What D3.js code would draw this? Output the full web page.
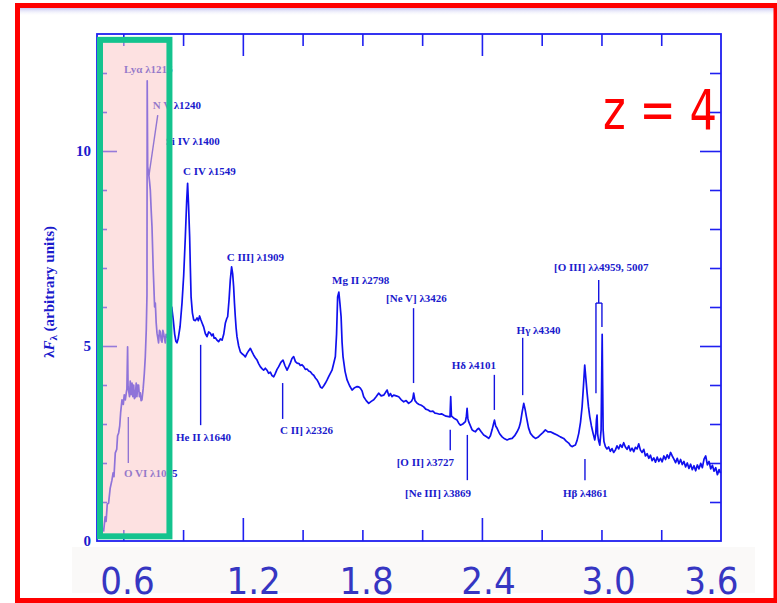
<!DOCTYPE html>
<html>
<head>
<meta charset="utf-8">
<script src="https://cdn.jsdelivr.net/npm/d3@7"></script>
<style>
  body { margin: 0; background: #fff; }
  svg { display: block; }
</style>
</head>
<body>
<svg id="chart" width="777" height="603"></svg>
<script>
// composite quasar spectrum, rest wavelength (A) vs lambda F_lambda
const wave = [835, 848, 856, 866, 877, 890, 905, 915, 922, 933, 945, 952, 961, 970, 978, 989,
  1000, 1008, 1017, 1025, 1030, 1036, 1040, 1044, 1052, 1058, 1065, 1073, 1080, 1087, 1093, 1100,
  1108, 1114, 1121, 1128, 1135, 1142, 1149, 1156, 1166, 1176, 1184, 1192, 1198, 1200, 1204, 1212,
  1220, 1226, 1233, 1240, 1250, 1262, 1268, 1275, 1282, 1289, 1295, 1303, 1310, 1317, 1324, 1331,
  1337, 1344, 1351, 1358, 1366, 1375, 1385, 1395, 1405, 1418, 1430, 1440, 1449, 1460, 1475, 1491,
  1505, 1519, 1530, 1538, 1546, 1555, 1561, 1567, 1578, 1589, 1603, 1617, 1628, 1638, 1648, 1659,
  1672, 1686, 1700, 1714, 1728, 1740, 1751, 1760, 1770, 1784, 1797, 1812, 1826, 1840, 1854, 1865,
  1873, 1885, 1895, 1906, 1915, 1923, 1930, 1937, 1944, 1951, 1965, 1979, 1993, 2007, 2021, 2035,
  2049, 2063, 2077, 2090, 2104, 2119, 2132, 2146, 2160, 2174, 2188, 2202, 2216, 2230, 2244, 2258,
  2272, 2286, 2300, 2318, 2336, 2352, 2370, 2384, 2397, 2411, 2425, 2440, 2454, 2470, 2481, 2495,
  2509, 2523, 2537, 2551, 2565, 2580, 2593, 2607, 2621, 2635, 2649, 2663, 2677, 2691, 2705, 2719,
  2732, 2746, 2760, 2774, 2784, 2793, 2803, 2812, 2822, 2830, 2838, 2855, 2872, 2893, 2914, 2935,
  2956, 2970, 2983, 2997, 3011, 3032, 3053, 3074, 3095, 3115, 3136, 3157, 3178, 3192, 3207, 3222,
  3235, 3248, 3262, 3283, 3304, 3325, 3346, 3366, 3387, 3410, 3422, 3429, 3440, 3458, 3475, 3493,
  3513, 3530, 3550, 3569, 3590, 3607, 3625, 3645, 3662, 3680, 3700, 3722, 3733, 3739, 3745, 3751,
  3770, 3792, 3806, 3820, 3840, 3862, 3870, 3876, 3882, 3889, 3903, 3918, 3932, 3946, 3960, 3973,
  3994, 4015, 4036, 4057, 4071, 4085, 4097, 4105, 4115, 4127, 4148, 4169, 4190, 4211, 4232, 4253,
  4274, 4294, 4310, 4322, 4336, 4350, 4361, 4372, 4390, 4406, 4427, 4448, 4468, 4489, 4510, 4531,
  4552, 4573, 4600, 4629, 4656, 4684, 4705, 4726, 4740, 4754, 4768, 4782, 4796, 4810, 4825, 4838,
  4850, 4860, 4870, 4880, 4891, 4902, 4916, 4930, 4944, 4952, 4958, 4963, 4968, 4975, 4986, 4997,
  5002, 5006, 5010, 5014, 5021, 5033, 5046, 5060, 5074, 5088, 5102, 5116, 5130, 5144, 5158, 5172,
  5186, 5200, 5214, 5228, 5242, 5256, 5270, 5284, 5298, 5312, 5326, 5340, 5354, 5368, 5382, 5396,
  5410, 5424, 5438, 5452, 5466, 5480, 5494, 5508, 5522, 5536, 5550, 5564, 5578, 5592, 5606, 5620,
  5634, 5648, 5662, 5676, 5690, 5704, 5718, 5732, 5746, 5760, 5774, 5788, 5802, 5816, 5830, 5844,
  5858, 5872, 5886, 5900, 5914, 5928, 5942, 5956, 5970, 5984, 5996];
const flux = [0.24, 0.62, 0.5, 0.95, 0.97, 1.35, 1.56, 1.75, 1.65, 2.26, 2.35, 2.7, 2.77, 2.95, 3.3, 3.62,
  3.5, 3.75, 3.62, 3.8, 3.9, 4.98, 3.95, 3.87, 3.7, 4.1, 3.75, 4.05, 3.7, 4.0, 3.65, 3.69,
  4.05, 3.7, 4.0, 4.0, 3.7, 3.8, 3.6, 3.62, 3.9, 4.3, 4.72, 5.4, 6.3, 11.8, 9.6, 9.43,
  9.2, 9.0, 8.5, 8.06, 7.0, 6.0, 6.1, 5.6, 5.33, 5.2, 5.08, 5.4, 5.36, 5.15, 5.1, 5.4,
  5.33, 5.2, 5.08, 5.3, 5.23, 5.35, 5.55, 5.8, 6.0, 5.67, 5.3, 5.12, 5.08, 5.2, 5.5, 6.1,
  6.8, 7.8, 8.7, 9.17, 8.6, 7.8, 7.0, 6.26, 5.85, 5.67, 5.65, 5.72, 5.65, 5.77, 5.68, 5.59,
  5.49, 5.32, 5.24, 5.36, 5.33, 5.26, 5.31, 5.2, 5.21, 5.15, 5.11, 5.18, 5.15, 5.3, 5.59, 5.7,
  5.75, 6.2, 6.69, 7.03, 6.85, 6.52, 6.1, 5.75, 5.45, 5.24, 5.0, 4.85, 4.8, 4.77, 4.72, 4.81,
  4.88, 4.94, 4.85, 4.77, 4.7, 4.64, 4.55, 4.47, 4.42, 4.38, 4.43, 4.38, 4.3, 4.33, 4.24, 4.21,
  4.3, 4.4, 4.47, 4.58, 4.64, 4.5, 4.38, 4.47, 4.56, 4.68, 4.73, 4.6, 4.56, 4.55, 4.5, 4.52,
  4.47, 4.4, 4.41, 4.36, 4.34, 4.28, 4.25, 4.18, 4.13, 4.05, 3.95, 3.92, 3.98, 4.05, 4.13, 4.22,
  4.3, 4.38, 4.55, 4.73, 5.3, 6.26, 6.38, 6.1, 5.75, 5.1, 4.73, 4.35, 4.13, 3.98, 3.87, 3.93,
  3.96, 3.95, 3.92, 3.85, 3.7, 3.6, 3.53, 3.58, 3.62, 3.7, 3.79, 3.72, 3.74, 3.8, 3.87, 3.72,
  3.78, 3.7, 3.74, 3.72, 3.7, 3.62, 3.57, 3.6, 3.53, 3.58, 3.65, 3.79, 3.6, 3.53, 3.5, 3.48,
  3.44, 3.38, 3.36, 3.32, 3.33, 3.28, 3.27, 3.25, 3.26, 3.23, 3.2, 3.19, 3.18, 3.7, 3.2, 3.19,
  3.14, 3.1, 3.02, 2.97, 3.0, 3.06, 3.2, 3.4, 3.15, 3.06, 2.96, 2.85, 2.82, 2.8, 2.86, 2.89,
  2.8, 2.72, 2.68, 2.63, 2.7, 2.85, 3.0, 3.1, 2.95, 2.89, 2.75, 2.67, 2.62, 2.59, 2.62, 2.63,
  2.7, 2.8, 2.9, 3.03, 3.3, 3.53, 3.38, 3.19, 2.9, 2.76, 2.68, 2.63, 2.66, 2.72, 2.78, 2.85,
  2.8, 2.8, 2.76, 2.72, 2.67, 2.63, 2.56, 2.51, 2.45, 2.42, 2.44, 2.46, 2.58, 2.76, 3.05, 3.44,
  4.0, 4.51, 4.15, 3.79, 3.45, 3.19, 2.95, 2.76, 2.59, 2.75, 3.1, 3.23, 2.75, 2.59, 2.46, 2.85,
  4.2, 5.3, 4.0, 2.85, 2.55, 2.42, 2.36, 2.41, 2.3, 2.37, 2.27, 2.33, 2.44, 2.36, 2.47, 2.4,
  2.52, 2.41, 2.35, 2.44, 2.31, 2.38, 2.29, 2.4, 2.36, 2.49, 2.33, 2.27, 2.35, 2.18, 2.24, 2.12,
  2.2, 2.06, 2.13, 2.02, 2.15, 2.04, 2.12, 2.03, 2.18, 2.09, 2.21, 2.12, 2.27, 2.18, 2.1, 2.01,
  2.12, 1.98, 2.09, 1.96, 2.04, 1.9, 2.0, 1.86, 1.97, 1.83, 1.93, 1.8, 1.95, 1.85, 1.99, 1.88,
  2.1, 2.18, 1.95, 2.04, 1.85, 1.94, 1.79, 1.88, 1.7, 1.83, 1.74];

// emission line labels: text start (wavelength) and baseline (flux)
const lineNames = ['Ly\u03b1 \u03bb1216', 'N V \u03bb1240', 'Si IV \u03bb1400', 'C IV \u03bb1549',
  'He II \u03bb1640', 'C III] \u03bb1909', 'C II] \u03bb2326', 'Mg II \u03bb2798', '[Ne V] \u03bb3426',
  '[O II] \u03bb3727', '[Ne III] \u03bb3869', 'H\u03b4 \u03bb4101', 'H\u03b3 \u03bb4340',
  'H\u03b2 \u03bb4861', '[O III] \u03bb\u03bb4959, 5007', 'O VI \u03bb1035'];
const labelWave = [1006, 1246, 1355, 1499, 1441, 1865, 2311, 2746, 3198, 3287, 3357, 3747, 4290, 4678, 4603, 1006];
const labelFlux = [12.0, 11.08, 10.15, 9.38, 2.56, 7.18, 2.74, 6.59, 6.13, 1.92, 1.13, 4.41, 5.31, 1.13, 6.92, 1.64];

// marker segments [w1, f1, w2, f2]
const markers = [
  [1288, 10.92, 1215, 9.38],
  [1647, 5.03, 1647, 2.97],
  [2333, 4.05, 2333, 3.13],
  [3428, 5.97, 3428, 4.05],
  [3735, 2.85, 3735, 2.33],
  [3878, 2.72, 3878, 1.56],
  [4104, 4.26, 4104, 3.36],
  [4341, 5.21, 4341, 3.74],
  [4862, 2.10, 4862, 1.56],
  [1042, 3.18, 1042, 2.0],
  [4977, 6.69, 4977, 6.10],
  [4954, 6.10, 5004, 6.10],
  [4954, 6.10, 4954, 3.79],
  [5004, 6.10, 5004, 5.49]
];

const yLabels = [0, 5, 10];
const yMinor = [1, 2, 3, 4, 6, 7, 8, 9, 11, 12];
const yMajor = [5, 10];
const xMinor = [1000, 1500, 2500, 3000, 3500, 4500, 5000, 5500];
const xMajor = [2000, 4000];

// observed-frame wavelengths (micron) at z = 4, placed at rest wavelength
const obsLabels = ['0.6', '1.2', '1.8', '2.4', '3.0', '3.6'];
const obsRest = [1035, 2090, 3035, 4055, 5060, 5920];

// shaded window (rest A, flux)
const windowWave = [805, 1386];
const windowFlux = [0.12, 12.85];

const blue = '#1f1ff0';
const textBlue = '#1a1acc';

const svg = d3.select('#chart');
const x = d3.scaleLinear().domain([780, 6000]).range([97, 721]);
const y = d3.scaleLinear().domain([0, 13]).range([541, 34]);

// faint smear under the top border
{
  let grad = svg.append('defs').append('linearGradient')
    .attr('id', 'smear').attr('x1', 0).attr('y1', 0).attr('x2', 0).attr('y2', 1);
  grad.append('stop').attr('offset', 0).attr('stop-color', '#b8b8ee').attr('stop-opacity', 0.8);
  grad.append('stop').attr('offset', 1).attr('stop-color', '#ffffff').attr('stop-opacity', 0);
  svg.append('rect').attr('x', 20).attr('y', 8).attr('width', 754).attr('height', 8)
    .attr('fill', 'url(#smear)');
}

// frame
svg.append('rect')
  .attr('x', x(780)).attr('y', y(13))
  .attr('width', x(6000) - x(780)).attr('height', y(0) - y(13))
  .attr('fill', 'none').attr('stroke', blue).attr('stroke-width', 1.8);

function ticks(axis, vals, size, tx, ty) {
  svg.append('g').attr('transform', `translate(${tx},${ty})`)
    .call(axis.tickValues(vals).tickSize(size).tickSizeOuter(0).tickFormat(''))
    .call(g => g.select('.domain').remove())
    .selectAll('line').attr('stroke', blue).attr('stroke-width', 1.6);
}
ticks(d3.axisBottom(x), xMinor, -11, 0, y(0));
ticks(d3.axisBottom(x), xMajor, -23, 0, y(0));
ticks(d3.axisTop(x), xMinor, -12, 0, y(13));
ticks(d3.axisTop(x), xMajor, -22, 0, y(13));
ticks(d3.axisLeft(y), yMinor, -10, x(780), 0);
ticks(d3.axisLeft(y), yMajor, -20, x(780), 0);
ticks(d3.axisRight(y), yMinor, -11, x(6000), 0);
ticks(d3.axisRight(y), yMajor, -21, x(6000), 0);

// y tick labels
{
  let g = svg.append('g').attr('transform', `translate(${x(780)},0)`)
    .call(d3.axisLeft(y).tickValues(yLabels).tickSize(0).tickPadding(6));
  g.select('.domain').remove();
  g.selectAll('text')
    .attr('fill', textBlue)
    .style('font-family', '"Liberation Serif", serif')
    .style('font-weight', 'bold')
    .style('font-size', '15px');
}

// y title
{
  let t = svg.append('text')
    .attr('transform', 'translate(54,292) rotate(-90)')
    .attr('text-anchor', 'middle')
    .attr('fill', textBlue)
    .style('font-family', '"Liberation Serif", serif')
    .style('font-weight', 'bold')
    .style('font-size', '15px');
  t.append('tspan').text('\u03bb');
  t.append('tspan').style('font-style', 'italic').text('F');
  t.append('tspan').attr('dy', 3).style('font-size', '11px').text('\u03bb');
  t.append('tspan').attr('dy', -3).text(' (arbitrary units)');
}

// spectrum
svg.append('path')
  .datum(d3.zip(wave, flux))
  .attr('fill', 'none')
  .attr('stroke', '#1010ee')
  .attr('stroke-width', 1.7)
  .attr('stroke-linejoin', 'round')
  .attr('d', d3.line().x(d => x(d[0])).y(d => y(d[1])));

// line markers
svg.append('g').selectAll('line').data(markers).enter().append('line')
  .attr('x1', d => x(d[0])).attr('y1', d => y(d[1]))
  .attr('x2', d => x(d[2])).attr('y2', d => y(d[3]))
  .attr('stroke', '#1414e0').attr('stroke-width', 1.4);

// line labels
svg.append('g').selectAll('text').data(lineNames).enter().append('text')
  .attr('x', (d, i) => x(labelWave[i]))
  .attr('y', (d, i) => y(labelFlux[i]))
  .attr('fill', textBlue)
  .style('font-family', '"Liberation Serif", serif')
  .style('font-weight', 'bold')
  .style('font-size', '11px')
  .text(d => d);

// pink window with green border
svg.append('rect')
  .attr('x', x(windowWave[0])).attr('y', y(windowFlux[1]))
  .attr('width', x(windowWave[1]) - x(windowWave[0]))
  .attr('height', y(windowFlux[0]) - y(windowFlux[1]))
  .attr('fill', 'rgb(252,200,200)').attr('fill-opacity', 0.54)
  .attr('stroke', '#14c38e').attr('stroke-width', 6);

// observed wavelength strip
svg.append('rect').attr('x', 72).attr('y', 547).attr('width', 683).attr('height', 46)
  .attr('fill', '#faf9f8');
svg.append('g').selectAll('text').data(obsLabels).enter().append('text')
  .attr('x', (d, i) => x(obsRest[i]))
  .attr('y', 594)
  .attr('text-anchor', 'middle')
  .attr('fill', '#3636c2')
  .style('font-family', '"DejaVu Sans Condensed", "DejaVu Sans", sans-serif')
  .style('font-stretch', 'condensed')
  .style('font-size', '38px')
  .text(d => d);

// redshift tag
svg.append('text')
  .attr('x', 603).attr('y', 129)
  .attr('fill', '#ff0000')
  .attr('textLength', 114).attr('lengthAdjust', 'spacingAndGlyphs')
  .style('font-family', '"DejaVu Sans", sans-serif')
  .style('font-size', '56px')
  .text('z = 4');

// outer red frame
svg.append('rect').attr('x', 17.5).attr('y', 5.5).attr('width', 758.5).attr('height', 595)
  .attr('fill', 'none').attr('stroke', '#ff0000').attr('stroke-width', 5);
</script>
</body>
</html>
